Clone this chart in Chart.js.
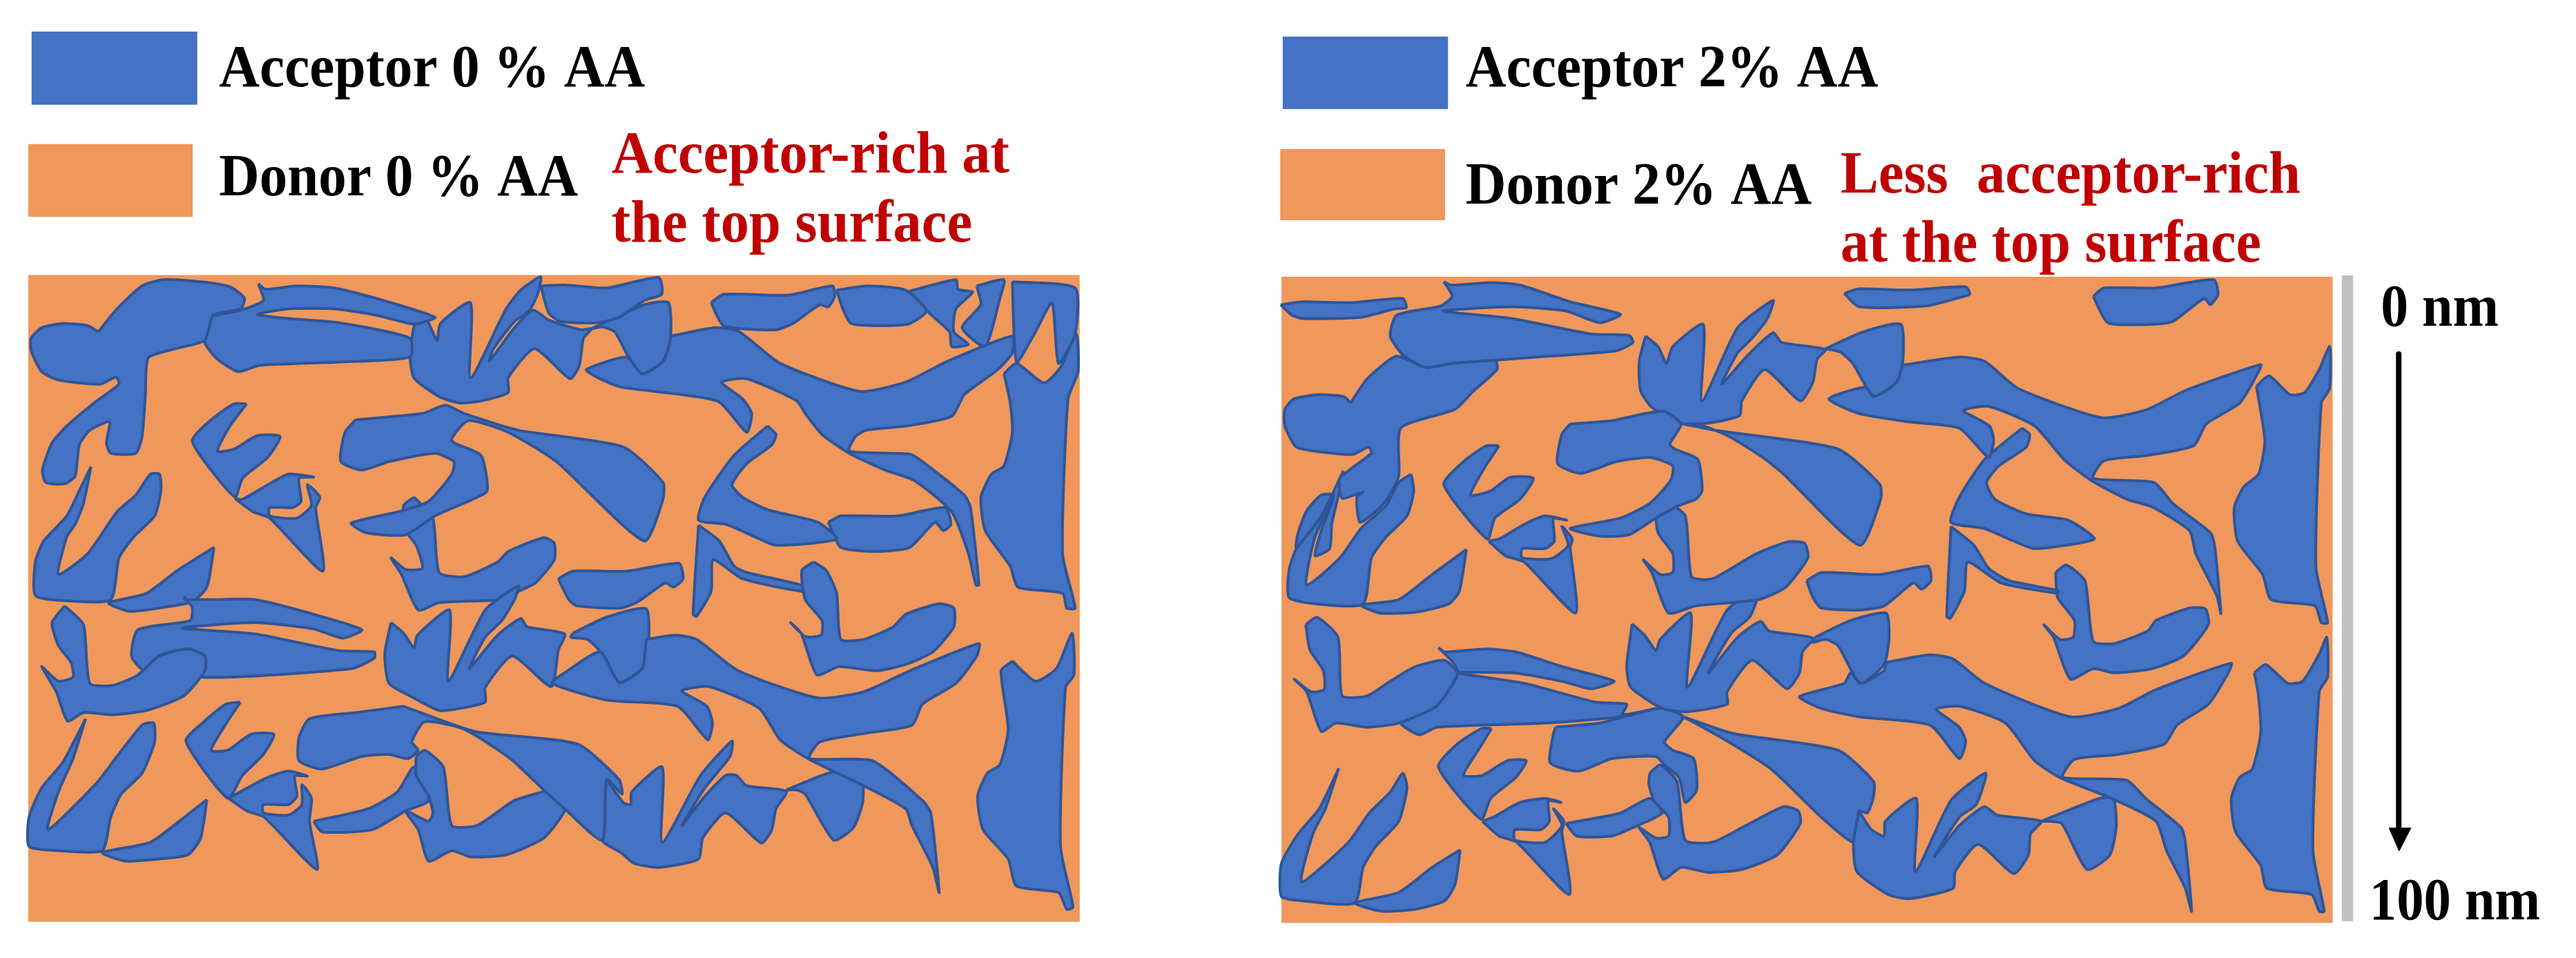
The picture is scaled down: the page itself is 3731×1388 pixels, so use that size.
<!DOCTYPE html>
<html>
<head>
<meta charset="utf-8">
<style>html,body{margin:0;padding:0;background:#fff}#wrap{width:3731px;height:1388px}</style>
<script src="https://cdn.jsdelivr.net/npm/chart.js@4/dist/chart.umd.min.js"></script>
</head>
<body>
<div id="wrap"><canvas id="myChart" width="3731" height="1388"></canvas></div>
<script>
// outlines, [lateral, depth] in reading units of each panel
var leftPanel = [[18,14],[2531,14],[2531,1560],[18,1560]];
var rightPanel = [[10,18],[2522,18],[2522,1563],[10,1563]];
var leftSwatchBlue = [[26,-568],[422,-568],[422,-393],[26,-393]];
var leftSwatchOrange = [[18,-299],[411,-299],[411,-125],[18,-125]];
var rightSwatchBlue = [[13,-556],[408,-556],[408,-383],[13,-383]];
var rightSwatchOrange = [[7,-287],[401,-287],[401,-117],[7,-117]];
var depthBar = [[2544,15],[2571,15],[2571,1559],[2544,1559]];
var arrowLine = [[2680,203],[2680,1345]];
var arrowHead = [[2657,1336],[2709,1336],[2681,1391]];

var leftAcceptor = [
  [[185,150],[230,95],[290,40],[340,25],[430,30],[500,42],[535,70],[525,95],[460,110],[440,170],[370,190],[305,212],[298,300],[290,400],[275,440],[215,440],[205,415],[212,365],[165,385],[140,420],[130,495],[105,513],[60,510],[52,480],[75,415],[110,375],[175,320],[235,275],[228,258],[190,275],[90,265],[50,245],[25,195],[25,165],[50,140],[100,130],[160,135]],
  [[568,35],[585,48],[660,40],[750,45],[850,70],[990,115],[950,130],[930,130],[850,110],[750,95],[640,95],[565,108],[640,118],[760,128],[930,165],[930,210],[760,222],[570,230],[520,245],[470,215],[440,175],[455,115],[520,100],[580,75]],
  [[945,108],[970,120],[995,170],[1003,130],[1075,80],[1075,260],[1160,95],[1195,50],[1243,18],[1235,60],[1215,100],[1180,125],[1130,190],[1120,220],[1180,140],[1225,98],[1262,122],[1340,145],[1365,142],[1345,165],[1335,230],[1313,262],[1228,190],[1165,260],[1165,295],[1100,315],[1050,320],[1000,305],[940,260],[930,200]],
  [[1243,40],[1300,38],[1400,45],[1525,20],[1532,60],[1490,75],[1430,115],[1380,128],[1290,125],[1262,105]],
  [[1400,125],[1490,85],[1548,80],[1553,165],[1535,220],[1485,250],[1450,205],[1420,150],[1390,138],[1365,142]],
  [[1553,160],[1660,140],[1715,148],[1815,225],[2005,292],[2115,270],[2215,220],[2370,160],[2370,200],[2335,240],[2255,300],[2225,352],[2115,375],[2020,385],[1995,400],[1980,435],[2125,442],[2155,460],[2255,540],[2270,570],[2290,755],[2283,755],[2265,680],[2225,580],[2135,505],[2065,480],[1980,440],[1915,395],[1875,345],[1855,315],[1735,262],[1675,270],[1725,310],[1747,345],[1735,390],[1665,315],[1435,282],[1380,260],[1352,240],[1450,210],[1485,250],[1535,220]],
  [[1650,80],[1680,60],[1835,62],[1940,40],[1945,65],[1930,90],[1910,85],[1845,130],[1805,145],[1680,135]],
  [[1950,50],[2025,40],[2115,50],[2165,100],[2125,130],[2075,135],[1985,130],[1965,95]],
  [[2115,55],[2235,25],[2240,48],[2275,55],[2235,95],[2230,150],[2265,180],[2225,185],[2220,150],[2165,100]],
  [[2285,40],[2350,25],[2340,70],[2305,185],[2250,140],[2295,85],[2290,60]],
  [[2370,30],[2520,45],[2520,155],[2480,225],[2465,80],[2425,150],[2380,222]],
  [[2350,250],[2380,225],[2445,272],[2485,235],[2523,155],[2527,245],[2503,310],[2490,680],[2520,810],[2500,810],[2490,775],[2383,760],[2365,710],[2305,625],[2295,545],[2320,490],[2350,470],[2370,390],[2365,320]],
  [[1785,375],[1805,395],[1795,420],[1735,465],[1700,515],[1725,545],[1785,575],[1905,605],[1950,645],[1805,660],[1755,640],[1685,610],[1620,600],[1635,545],[1705,445]],
  [[1620,612],[1670,650],[1705,710],[1735,725],[1865,755],[1867,770],[1725,740],[1655,695],[1650,770],[1615,830],[1607,825]],
  [[1930,605],[1960,590],[2095,590],[2210,570],[2223,610],[2205,625],[2185,605],[2125,665],[2045,675],[1960,665]],
  [[2370,937],[2425,985],[2475,955],[2513,870],[2517,970],[2497,1000],[2485,1380],[2515,1525],[2500,1530],[2480,1490],[2380,1475],[2360,1410],[2300,1340],[2287,1260],[2310,1205],[2340,1185],[2360,1100],[2343,960]],
  [[1895,700],[1925,720],[1950,775],[1960,885],[2015,885],[2085,855],[2115,825],[2195,800],[2230,810],[2230,855],[2180,915],[2115,945],[2045,960],[1955,950],[1903,970],[1865,870],[1840,845],[1875,878],[1913,875],[1915,840],[1875,790],[1867,720]],
  [[1495,885],[1565,875],[1615,885],[1715,960],[1905,1025],[2015,1010],[2125,960],[2290,895],[2285,925],[2235,990],[2155,1040],[2130,1090],[2015,1110],[1910,1130],[1885,1170],[2035,1175],[2155,1270],[2175,1300],[2195,1490],[2180,1430],[2130,1330],[2115,1290],[2015,1235],[1885,1172],[1815,1125],[1765,1050],[1645,998],[1580,1008],[1640,1045],[1653,1085],[1642,1125],[1570,1045],[1400,1030],[1270,990],[1300,965],[1385,915],[1430,988],[1485,955]],
  [[1320,870],[1400,832],[1495,812],[1500,900],[1485,955],[1430,988],[1385,915],[1355,885],[1315,880]],
  [[885,845],[915,870],[940,905],[948,875],[1025,815],[1022,985],[1110,815],[1190,757],[1180,790],[1150,840],[1110,880],[1072,955],[1140,875],[1195,835],[1210,855],[1300,872],[1285,910],[1268,998],[1175,925],[1110,1000],[1110,1035],[1050,1050],[1000,1055],[930,1020],[880,990],[870,920]],
  [[1285,740],[1320,722],[1450,722],[1573,703],[1583,740],[1560,760],[1540,750],[1475,795],[1435,810],[1330,805],[1310,790]],
  [[105,805],[150,850],[165,990],[220,995],[280,970],[330,925],[400,908],[440,925],[440,960],[390,1020],[300,1055],[220,1065],[150,1060],[112,1080],[85,1010],[50,950],[90,985],[125,975],[120,940],[90,900],[75,845]],
  [[390,790],[460,790],[560,790],[700,825],[815,862],[770,882],[700,860],[560,845],[385,858],[560,872],[760,912],[845,915],[845,930],[790,955],[430,975],[440,925],[400,908],[330,925],[295,960],[265,925],[280,862],[405,840],[410,810],[392,785]],
  [[462,665],[445,760],[410,795],[330,810],[260,818],[210,798],[300,775],[375,720]],
  [[168,472],[150,560],[130,610],[110,640],[90,730],[160,680],[230,580],[275,540],[310,490],[332,490],[335,530],[320,590],[270,640],[235,690],[215,790],[100,792],[35,780],[35,700],[55,650],[110,590],[140,530]],
  [[540,322],[510,322],[455,360],[410,412],[512,545],[530,500],[590,450],[620,400],[565,398],[510,430],[470,435],[500,375]],
  [[512,548],[530,550],[600,510],[640,490],[700,497],[665,500],[670,555],[650,570],[595,570],[595,590],[660,595],[695,565],[685,515],[715,545],[705,570],[722,722],[595,595],[555,580]],
  [[800,360],[960,345],[1015,325],[1060,345],[1190,385],[1440,425],[1535,510],[1535,550],[1490,650],[1280,460],[1165,390],[1070,362],[1030,410],[1100,445],[1115,530],[1080,550],[990,590],[920,635],[825,630],[790,607],[910,578],[975,555],[1030,490],[1035,460],[990,440],[880,460],[815,480],[765,460],[775,390]],
  [[940,545],[985,595],[1000,725],[1060,735],[1140,700],[1165,675],[1250,642],[1275,655],[1275,695],[1230,750],[1190,770],[1150,790],[1000,797],[950,815],[910,730],[885,690],[920,718],[960,715],[945,660],[920,625],[915,565]],
  [[915,1045],[1085,1105],[1330,1135],[1430,1220],[1437,1255],[1400,1220],[1390,1365],[1300,1290],[1250,1245],[1170,1170],[1060,1100],[965,1082],[935,1130],[950,1150],[925,1170],[880,1160],[815,1165],[720,1195],[665,1175],[665,1120],[690,1075],[800,1060]],
  [[945,1165],[965,1150],[1010,1190],[1030,1330],[1090,1330],[1150,1290],[1180,1270],[1270,1245],[1300,1260],[1300,1295],[1250,1360],[1160,1400],[1075,1405],[1030,1390],[975,1415],[950,1340],[920,1295],[975,1320],[985,1300],[975,1260],[945,1210]],
  [[700,1320],[830,1290],[900,1250],[940,1190],[975,1270],[920,1295],[840,1340],[720,1345]],
  [[1400,1220],[1440,1275],[1458,1280],[1460,1250],[1533,1190],[1533,1370],[1625,1210],[1700,1128],[1695,1165],[1635,1240],[1580,1330],[1635,1260],[1685,1210],[1710,1210],[1735,1235],[1830,1248],[1805,1290],[1795,1340],[1770,1372],[1685,1300],[1630,1360],[1620,1410],[1525,1430],[1465,1420],[1435,1395],[1390,1365]],
  [[1830,1245],[1915,1210],[2005,1188],[2013,1270],[1990,1335],[1943,1365],[1875,1255],[1855,1245]],
  [[155,1075],[125,1170],[90,1250],[65,1340],[180,1230],[230,1165],[290,1090],[318,1085],[320,1130],[290,1205],[240,1255],[215,1310],[195,1390],[90,1390],[20,1380],[20,1310],[50,1240],[100,1180]],
  [[445,1268],[430,1360],[400,1400],[330,1410],[250,1415],[195,1395],[310,1370],[385,1315]],
  [[525,1035],[490,1040],[440,1080],[395,1128],[495,1265],[530,1210],[580,1160],[605,1112],[550,1112],[495,1150],[455,1150],[495,1080]],
  [[497,1265],[520,1252],[590,1215],[640,1200],[685,1212],[655,1212],[660,1260],[640,1280],[580,1280],[580,1300],[640,1305],[672,1280],[672,1232],[695,1265],[690,1320],[708,1435],[582,1310],[540,1295]]
];

var rightAcceptor = [
  [[8,85],[60,78],[180,80],[300,70],[308,92],[280,95],[200,115],[60,118],[35,110]],
  [[398,30],[415,38],[510,32],[580,38],[700,78],[820,108],[770,128],[690,100],[560,90],[395,100],[560,118],[750,155],[840,158],[850,175],[810,195],[620,210],[420,225],[355,235],[300,205],[270,160],[285,110],[390,88],[418,65]],
  [[175,320],[215,262],[285,208],[355,235],[420,222],[520,215],[525,240],[470,290],[425,335],[295,380],[290,495],[255,560],[198,605],[190,545],[205,532],[155,548],[150,500],[225,440],[218,425],[180,443],[90,435],[45,425],[18,375],[18,335],[40,310],[100,300],[160,305]],
  [[158,482],[145,545],[130,610],[125,668],[90,685],[105,625],[135,540],[105,540],[70,578],[50,630],[45,665],[105,590]],
  [[320,490],[326,530],[310,590],[260,640],[225,690],[205,800],[90,800],[28,785],[28,720],[45,670],[100,600],[135,545],[90,640],[70,755],[150,690],[200,620],[260,565],[290,510]],
  [[452,670],[435,770],[410,800],[330,820],[245,822],[200,803],[290,790],[370,730]],
  [[530,422],[500,422],[445,460],[398,515],[502,645],[520,595],[580,550],[612,500],[555,498],[510,530],[462,540],[495,475]],
  [[505,650],[530,645],[590,610],[640,590],[692,600],[660,597],[662,650],[640,668],[585,668],[585,690],[655,692],[695,660],[680,615],[705,645],[700,665],[713,822],[590,700],[545,685]],
  [[700,370],[800,362],[880,345],[925,340],[965,370],[938,418],[950,430],[1005,455],[1015,530],[1000,550],[960,565],[905,595],[840,635],[770,638],[700,620],[820,595],[890,560],[940,505],[945,470],[890,450],[810,460],[725,488],[670,465],[680,395]],
  [[970,370],[1045,385],[1340,430],[1440,515],[1442,550],[1392,660],[1210,490],[1160,450],[1080,400],[1010,372]],
  [[930,552],[975,590],[990,735],[1040,740],[1145,680],[1220,652],[1260,655],[1268,690],[1215,760],[1150,790],[1000,805],[935,822],[895,725],[875,695],[915,730],[945,725],[945,680],[910,630],[905,570]],
  [[880,160],[910,185],[930,225],[945,185],[1018,132],[1015,315],[1100,140],[1185,75],[1170,120],[1130,170],[1100,200],[1062,275],[1125,205],[1185,152],[1205,175],[1310,192],[1290,215],[1280,270],[1250,315],[1165,240],[1110,315],[1105,350],[1030,368],[960,368],[895,330],[868,290],[865,220]],
  [[1310,190],[1400,150],[1490,132],[1495,220],[1480,270],[1425,303],[1375,225],[1345,198]],
  [[1490,230],[1630,210],[1690,220],[1770,285],[1970,355],[2080,335],[2170,290],[2350,228],[2345,245],[2300,320],[2220,370],[2190,422],[2080,445],[1975,458],[1950,500],[2095,510],[2140,560],[2230,630],[2240,660],[2255,823],[2245,780],[2195,680],[2180,625],[2090,568],[2030,550],[1945,505],[1880,455],[1810,375],[1700,328],[1640,338],[1702,375],[1712,410],[1700,450],[1630,380],[1510,365],[1390,345],[1318,310],[1405,282],[1425,305],[1480,270]],
  [[1355,58],[1390,47],[1510,50],[1645,42],[1655,60],[1630,68],[1550,88],[1390,90]],
  [[1950,65],[1975,45],[2100,45],[2238,25],[2248,60],[2230,85],[2215,70],[2140,125],[2090,132],[1985,128]],
  [[2340,280],[2370,255],[2420,300],[2455,295],[2490,240],[2515,185],[2515,285],[2495,320],[2482,710],[2510,845],[2495,845],[2480,805],[2375,790],[2355,730],[2295,650],[2287,570],[2310,520],[2345,490],[2360,410]],
  [[2335,965],[2362,945],[2415,990],[2450,985],[2490,920],[2508,880],[2510,975],[2490,1010],[2475,1390],[2502,1535],[2490,1535],[2472,1495],[2365,1480],[2350,1425],[2290,1345],[2280,1265],[2300,1215],[2330,1195],[2350,1110],[2345,1020]],
  [[1780,380],[1798,395],[1790,425],[1725,470],[1695,510],[1715,550],[1790,585],[1890,600],[1952,645],[1810,668],[1760,650],[1690,620],[1610,605],[1630,545],[1690,455]],
  [[1610,615],[1665,660],[1700,715],[1750,745],[1865,768],[1865,775],[1730,750],[1650,700],[1642,770],[1608,835],[1600,830]],
  [[1265,745],[1300,725],[1440,730],[1555,710],[1562,745],[1540,765],[1520,750],[1450,805],[1390,815],[1300,810],[1280,785]],
  [[1860,725],[1885,707],[1930,745],[1950,890],[2000,895],[2080,865],[2100,840],[2180,810],[2218,812],[2225,850],[2165,925],[2090,955],[2000,965],[1950,955],[1895,980],[1855,880],[1832,850],[1870,885],[1902,880],[1905,840],[1865,785]],
  [[848,848],[878,875],[905,912],[915,885],[988,822],[980,1000],[1075,815],[1152,763],[1130,830],[1085,870],[1030,965],[1100,880],[1155,842],[1175,865],[1280,882],[1255,915],[1248,965],[1218,1003],[1135,935],[1075,1010],[1075,1040],[980,1058],[920,1050],[845,1000],[835,950]],
  [[1285,880],[1370,840],[1455,822],[1462,880],[1450,945],[1393,990],[1340,900],[1310,885],[1280,892]],
  [[1455,940],[1560,922],[1615,932],[1690,990],[1895,1070],[2010,1050],[2100,1005],[2280,942],[2270,970],[2225,1040],[2150,1090],[2120,1135],[2010,1160],[1905,1172],[1877,1215],[2030,1222],[2075,1265],[2160,1335],[2170,1370],[2185,1535],[2170,1480],[2125,1390],[2100,1320],[2000,1268],[1870,1215],[1810,1175],[1740,1085],[1630,1045],[1575,1052],[1630,1095],[1645,1130],[1630,1170],[1560,1090],[1390,1070],[1300,1050],[1248,1022],[1355,990],[1370,965],[1395,990],[1450,960]],
  [[1825,1320],[1965,1265],[1998,1265],[2005,1330],[1990,1400],[1935,1435],[1875,1325],[1850,1320]],
  [[1390,1295],[1420,1340],[1450,1355],[1453,1320],[1527,1265],[1525,1440],[1610,1270],[1693,1205],[1670,1280],[1630,1310],[1570,1405],[1630,1330],[1690,1285],[1720,1305],[1825,1320],[1800,1350],[1795,1400],[1760,1445],[1675,1375],[1620,1440],[1615,1480],[1510,1505],[1460,1495],[1385,1440],[1377,1370]],
  [[965,1068],[1090,1110],[1340,1150],[1425,1225],[1425,1260],[1410,1300],[1390,1295],[1377,1370],[1300,1310],[1180,1195],[1070,1125],[985,1078]],
  [[665,1095],[770,1085],[915,1050],[970,1070],[925,1130],[945,1150],[995,1170],[1002,1245],[975,1275],[960,1215],[925,1185],[905,1165],[800,1170],[720,1200],[652,1180],[660,1110]],
  [[68,850],[95,832],[145,880],[155,1020],[215,1020],[270,985],[330,950],[400,935],[430,965],[420,990],[380,1045],[290,1085],[215,1095],[140,1085],[105,1105],[70,1010],[40,980],[80,1010],[112,1005],[110,960],[78,910]],
  [[385,905],[400,915],[500,908],[570,915],[680,950],[805,985],[750,1003],[680,985],[560,965],[432,965],[590,990],[760,1035],[835,1040],[825,1065],[905,1050],[820,1070],[640,1085],[380,1095],[340,1113],[295,1085],[380,1045],[420,990],[432,965],[420,940]],
  [[890,1205],[915,1185],[955,1225],[975,1365],[1040,1370],[1120,1330],[1210,1285],[1245,1295],[1250,1325],[1195,1400],[1110,1435],[1030,1442],[965,1430],[922,1458],[890,1370],[865,1335],[905,1360],[935,1355],[935,1310],[900,1270],[888,1230]],
  [[690,1325],[820,1300],[890,1265],[920,1300],[850,1335],[800,1355],[715,1355]],
  [[512,1098],[488,1098],[430,1135],[385,1190],[487,1315],[510,1265],[570,1215],[595,1175],[550,1175],[490,1210],[445,1210],[480,1150]],
  [[490,1320],[520,1308],[580,1275],[640,1265],[678,1275],[648,1272],[650,1320],[630,1340],[568,1340],[568,1365],[640,1370],[680,1330],[660,1290],[685,1320],[680,1345],[698,1495],[572,1370],[530,1355]],
  [[147,1193],[115,1290],[85,1350],[58,1465],[170,1370],[220,1300],[270,1250],[300,1205],[310,1240],[290,1320],[235,1380],[205,1430],[185,1515],[60,1510],[10,1500],[10,1420],[50,1350],[100,1290]],
  [[437,1388],[425,1470],[400,1510],[330,1530],[250,1535],[185,1515],[290,1490],[370,1430]]
];

var blackLabels = ["Acceptor 0 % AA", "Donor 0 % AA", "Acceptor 2% AA", "Donor 2% AA", "0 nm", "100 nm"];
var redLabels = ["Acceptor-rich at", "the top surface", "Less  acceptor-rich", "at the top surface"];

var BLUE = '#4472c4', EDGE = '#2f5597', ORANGE = '#f0975b', GREY = '#bfbfbf', RED = '#c00000';

function polygon(outline, xAxis, fillColor, edgeColor, edgeWidth, bend) {
    var pts = outline.map(function (p) { return { x: p[0], y: p[1] }; });
    pts.push({ x: outline[0][0], y: outline[0][1] });
    return {
        type: 'scatter',
        showLine: true,
        fill: 'shape',
        data: pts,
        xAxisID: xAxis,
        yAxisID: 'y',
        backgroundColor: fillColor,
        borderColor: edgeColor || fillColor,
        borderWidth: edgeWidth === undefined ? 4 : edgeWidth,
        borderJoinStyle: 'round',
        pointRadius: 0,
        tension: bend || 0
    };
}

// first dataset ends up on top in Chart.js, so panels go last
var datasets = [];
datasets.push(polygon(arrowHead, 'xRight', '#000', '#000', 1));
datasets.push(Object.assign(polygon(arrowLine, 'xRight', '#000', '#000', 8), { fill: false, data: arrowLine.map(function (p) { return { x: p[0], y: p[1] }; }) }));
rightAcceptor.forEach(function (o) { datasets.push(polygon(o, 'xRight', BLUE, EDGE, 4, 0.2)); });
leftAcceptor.forEach(function (o) { datasets.push(polygon(o, 'xLeft', BLUE, EDGE, 4, 0.2)); });
datasets.push(polygon(leftPanel, 'xLeft', ORANGE, ORANGE, 0));
datasets.push(polygon(rightPanel, 'xRight', ORANGE, ORANGE, 0));
datasets.push(polygon(depthBar, 'xRight', GREY, GREY, 0));
datasets.push(polygon(leftSwatchBlue, 'xLeft', BLUE, BLUE, 0));
datasets.push(polygon(leftSwatchOrange, 'xLeft', ORANGE, ORANGE, 0));
datasets.push(polygon(rightSwatchBlue, 'xRight', BLUE, BLUE, 0));
datasets.push(polygon(rightSwatchOrange, 'xRight', ORANGE, ORANGE, 0));

// text placed on the same scales: label, axis, x, y, right edge, colour
var textPlaces = [
    [blackLabels[0], 'xLeft', 474, -437, 1492, '#000'],
    [blackLabels[1], 'xLeft', 474, -177, 1332, '#000'],
    [redLabels[0], 'xLeft', 1412, -231, 2363, RED],
    [redLabels[1], 'xLeft', 1412, -66, 2274, RED],
    [blackLabels[2], 'xRight', 450, -437, 1436, '#000'],
    [blackLabels[3], 'xRight', 450, -157, 1277, '#000'],
    [redLabels[2], 'xRight', 1346, -183, 2445, RED],
    [redLabels[3], 'xRight', 1346, -18, 2351, RED],
    [blackLabels[4], 'xRight', 2637, 135, 2919, '#000'],
    [blackLabels[5], 'xRight', 2610, 1554, 3018, '#000']
];

var labelPlugin = {
    id: 'panelLabels',
    afterDraw: function (chart) {
        var ctx = chart.ctx;
        ctx.save();
        ctx.textBaseline = 'alphabetic';
        ctx.textAlign = 'left';
        ctx.font = 'bold 86px "Liberation Serif"';
        textPlaces.forEach(function (t) {
            var sx = chart.scales[t[1]];
            var left = sx.getPixelForValue(t[2]);
            var right = sx.getPixelForValue(t[4]);
            ctx.fillStyle = t[5];
            ctx.fillText(t[0], left, chart.scales.y.getPixelForValue(t[3]), right - left);
        });
        ctx.restore();
    }
};

var ctx = document.getElementById('myChart');
var myChart = new Chart(ctx, {
    type: 'scatter',
    data: { datasets: datasets },
    plugins: [labelPlugin],
    options: {
        responsive: false,
        animation: false,
        devicePixelRatio: 1,
        layout: { padding: 0 },
        plugins: { legend: { display: false }, tooltip: { enabled: false } },
        scales: {
            xLeft: { type: 'linear', position: 'bottom', display: false, min: -49.5, max: 6107 },
            xRight: { type: 'linear', position: 'top', display: false, min: -3052.5, max: 3103.65 },
            y: { type: 'linear', display: false, reverse: true, min: -643.5, max: 1646.7 }
        }
    }
});
</script>
</body>
</html>
